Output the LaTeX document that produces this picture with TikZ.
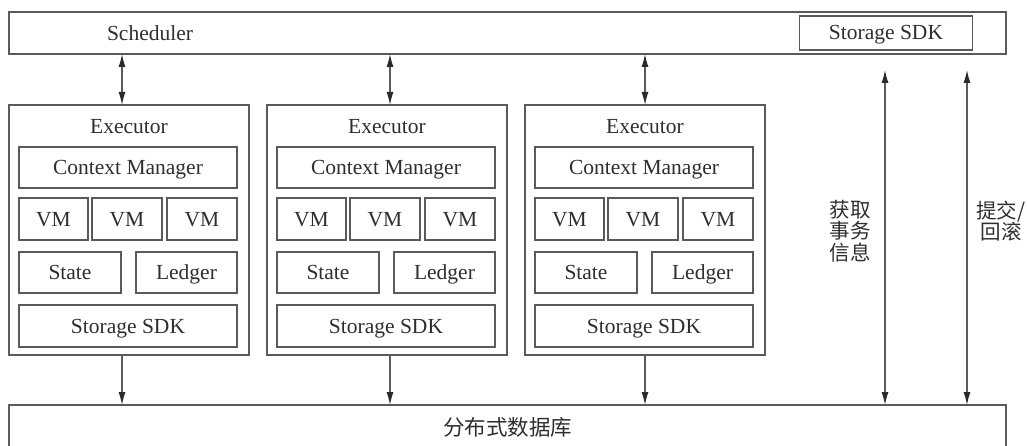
\documentclass[tikz,border=0pt]{standalone}
\usepackage{fontspec}
\setmainfont{Liberation Serif}
\newfontfamily\cjk{Noto Sans CJK SC}
\usetikzlibrary{arrows.meta}
\definecolor{linegray}{HTML}{5A5A5A}
\definecolor{textgray}{HTML}{2E2E2E}
\definecolor{tipgray}{HTML}{2A2A2A}
\tikzset{
  box/.style={draw=linegray, line width=1.2pt, rectangle, inner sep=0pt, outer sep=0pt,
              text=textgray, text height=17pt, text depth=3pt,
              font=\fontsize{21.5}{24}\selectfont},
  lbl/.style={text=textgray, inner sep=0pt, text height=17pt, text depth=3pt,
              font=\fontsize{21.5}{24}\selectfont},
  cjklbl/.style={text=textgray, inner sep=0pt, align=center,
                 font=\cjk\fontsize{20.5}{21.5}\selectfont},
  link/.style={draw=linegray, line width=1.2pt},
  tip/.tip={Latex[length=13pt,width=7pt,color=tipgray]},
  onearrow/.style={link, -tip},
  twoarrow/.style={link, tip-tip},
}
\begin{document}
\begin{tikzpicture}[x=1pt,y=-1pt]
\useasboundingbox (0,0) rectangle (1027,446);

% scheduler bar with its own storage SDK
\node[box, minimum width=997, minimum height=42] (sch) at (507.5,33) {};
\node[lbl] (schlbl) at (150,34) {Scheduler};
\node[box, minimum width=173, minimum height=34] (topsdk) at (886,33) {Storage SDK};

% distributed database bar
\node[box, minimum width=997, minimum height=45, text height=17pt, text depth=1pt]
  (db) at (507.5,427.5) {\cjk 分布式数据库};

% the three executors
\foreach \x/\i/\d in {9/1/-7, 267/2/3, 525/3/0}{
  \node[box, minimum width=240, minimum height=250] (e\i) at (\x+120,230) {};
  \node[lbl] (ex\i) at (\x+120,127) {Executor};
  \node[box, minimum width=218, minimum height=41] (cm\i) at (\x+119,167.5) {Context Manager};
  \node[box, minimum width=69, minimum height=42] (vma\i) at (\x+44.5,219) {VM};
  \node[box, minimum width=70, minimum height=42] (vmb\i) at (\x+118,219) {VM};
  \node[box, minimum width=70, minimum height=42] (vmc\i) at (\x+193,219) {VM};
  \node[box, minimum width=102, minimum height=41] (st\i) at (\x+61,272.5) {State};
  \node[box, minimum width=101, minimum height=41] (lg\i) at (\x+177.5,272.5) {Ledger};
  \node[box, minimum width=218, minimum height=42] (sdk\i) at (\x+119,326) {Storage SDK};
  \draw[twoarrow] ([xshift=\d pt]e\i.north) -- ([xshift=\d pt]e\i.north |- sch.south);
  \draw[onearrow] ([xshift=\d pt]e\i.south) -- ([xshift=\d pt]e\i.south |- db.north);
}

% transaction channels between the scheduler SDK and the database
\coordinate (fetch) at (885,70);
\coordinate (commit) at (967,70);
\draw[twoarrow] (fetch) -- (fetch |- db.north);
\draw[twoarrow] (commit) -- (commit |- db.north);
\node[cjklbl] (fetchlbl) at (850,231) {获取\\事务\\信息};
\node[cjklbl] (commitlbl) at (1001,221) {提交/\\回滚};
\end{tikzpicture}
\end{document}
